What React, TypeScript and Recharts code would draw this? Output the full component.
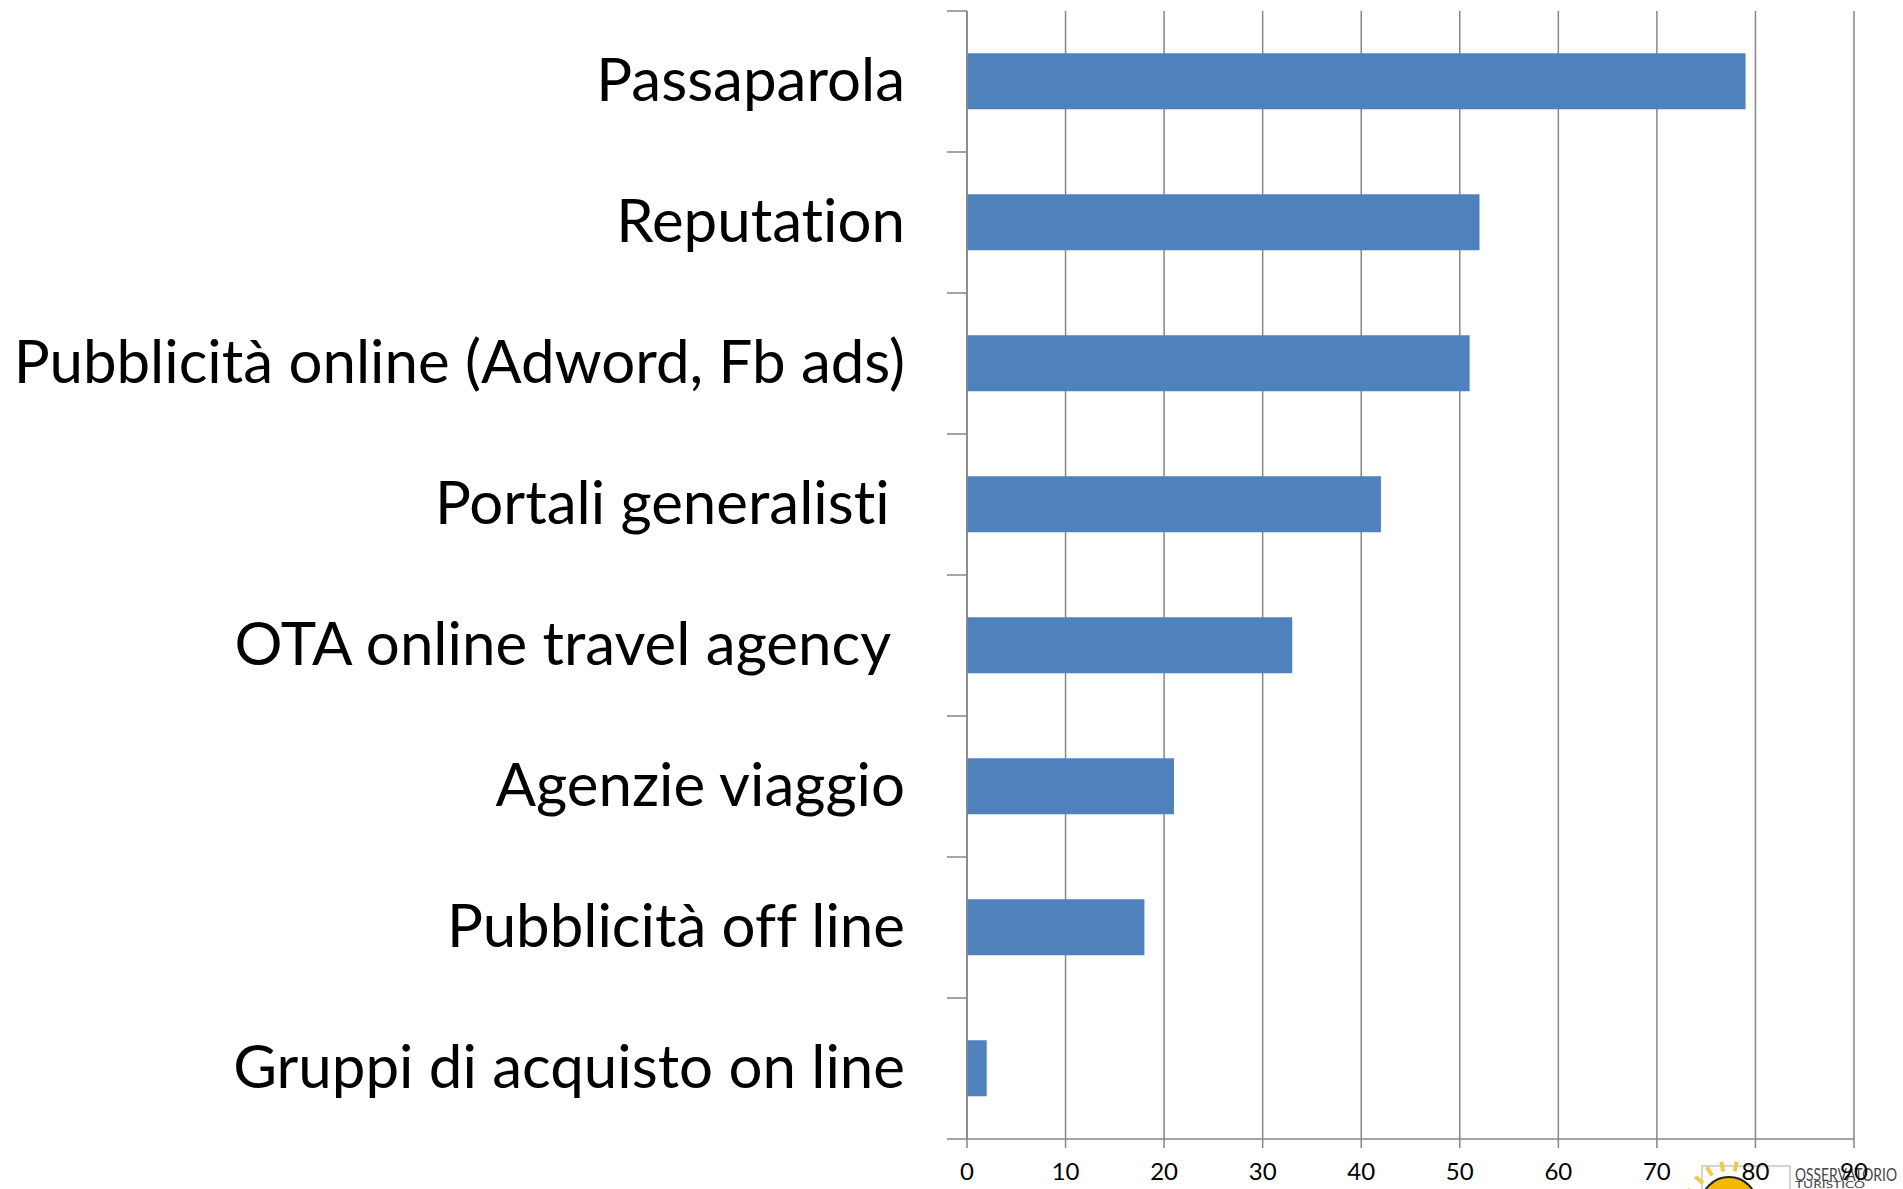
import React from 'react';
import { BarChart, Bar, XAxis, YAxis, CartesianGrid } from 'recharts';

const categories = [
    'Passaparola',
    'Reputation',
    'Pubblicità online (Adword, Fb ads)',
    'Portali generalisti ',
    'OTA online travel agency ',
    'Agenzie viaggio',
    'Pubblicità off line',
    'Gruppi di acquisto on line',
];
const values = [79, 52, 51, 42, 33, 21, 18, 2];
const xTicks = [0, 10, 20, 30, 40, 50, 60, 70, 80, 90];

const data = categories.map((name, i) => ({ name, value: values[i] }));

const W = 1903;
const H = 1189;
const MARGIN = { top: 11, right: 49, bottom: 0, left: 0 };
const Y_AXIS_W = 967;
const X_AXIS_H = 50;
const GRID = '#868686';
const FONT = 'Lato, "Open Sans", sans-serif';

const bandHalf = (H - MARGIN.top - MARGIN.bottom - X_AXIS_H) / categories.length / 2;

const CategoryTick = (props: any) => {
    const { x, y, payload, index } = props;
    const half = payload && payload.offset ? payload.offset : bandHalf;
    const label = String(payload.value).replace(/ $/, '\u00a0');
    return (
        <g>
            <line x1={x - 20} x2={x} y1={y - half} y2={y - half} stroke={GRID} strokeWidth={1.5} />
            {index === categories.length - 1 && (
                <line x1={x - 20} x2={x} y1={y + half} y2={y + half} stroke={GRID} strokeWidth={1.5} />
            )}
            <text
                x={x - 62}
                y={y - 4}
                textAnchor="end"
                dominantBaseline="central"
                fontFamily={FONT}
                fontSize={60}
                fill="#000"
                style={{ whiteSpace: 'pre', fontVariantLigatures: 'none' }}
            >
                {label}
            </text>
        </g>
    );
};

// logo in the bottom-right corner, partly cut off like the original slide
const Logo = () => (
    <svg width={W} height={H} style={{ position: 'absolute', left: 0, top: 0, pointerEvents: 'none' }}>
        <g>
            <rect x={1702} y={1166} width={88} height={40} fill="none" stroke="#aaa" strokeWidth={1} />
            {[-70, -50, -30, -10, 10].map(a => {
                const r = (a * Math.PI) / 180;
                const cx = 1729;
                const cy = 1205;
                return (
                    <line
                        key={a}
                        x1={cx + Math.sin(r) * 34}
                        y1={cy - Math.cos(r) * 34}
                        x2={cx + Math.sin(r) * 44}
                        y2={cy - Math.cos(r) * 44}
                        stroke="#f2c84b"
                        strokeWidth={4}
                    />
                );
            })}
            <circle cx={1729} cy={1205} r={28} fill="#f5b800" stroke="#222" strokeWidth={2} />
            <text x={1795} y={1181} fontFamily={FONT} fontSize={17} fill="#444" textLength={102} lengthAdjust="spacingAndGlyphs">
                OSSERVATORIO
            </text>
            <text x={1795} y={1188} fontFamily={FONT} fontSize={9} fill="#444" textLength={70} lengthAdjust="spacingAndGlyphs">
                TURISTICO
            </text>
        </g>
    </svg>
);

export default function App() {
    return (
        <div style={{ position: 'absolute', left: 0, top: 0, width: W, height: H, background: '#fff' }}>
            <Logo />
            <BarChart width={W} height={H} data={data} layout="vertical" margin={MARGIN} barCategoryGap="30%">
                <CartesianGrid horizontal={false} stroke={GRID} strokeWidth={1.5} />
                <XAxis
                    type="number"
                    domain={[0, 90]}
                    ticks={xTicks}
                    height={X_AXIS_H}
                    axisLine={{ stroke: GRID, strokeWidth: 1.5 }}
                    tickLine={{ stroke: GRID, strokeWidth: 1.5 }}
                    tickSize={9}
                    tickMargin={15}
                    tick={{ fontSize: 24, fontFamily: FONT, fill: '#000' }}
                    interval={0}
                />
                <YAxis
                    type="category"
                    dataKey="name"
                    width={Y_AXIS_W}
                    axisLine={{ stroke: GRID, strokeWidth: 1.5 }}
                    tickLine={false}
                    tickSize={0}
                    tickMargin={0}
                    tick={<CategoryTick />}
                    interval={0}
                />
                <Bar dataKey="value" fill="#4F81BD" isAnimationActive={false} />
            </BarChart>
        </div>
    );
}
